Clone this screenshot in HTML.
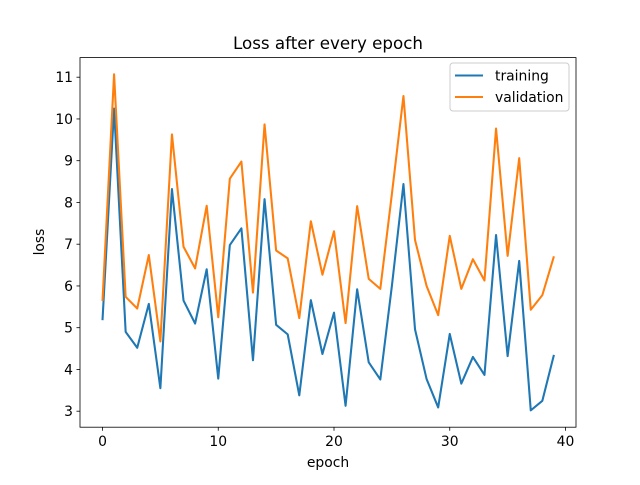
<!DOCTYPE html>
<html><head><meta charset="utf-8"><style>body{margin:0;background:#fff}svg{font-family:"DejaVu Sans","Liberation Sans",sans-serif}</style></head>
<body>
<svg id="chart" width="640" height="480" xmlns="http://www.w3.org/2000/svg">
<rect width="640" height="480" fill="#fff"/>
<text x="328" y="49" font-size="16.7" text-anchor="middle">Loss after every epoch</text>
<g id="plot"></g>
<rect x="80" y="57.6" width="496" height="369.6" fill="none" stroke="#000" stroke-width="0.8"/>
<text x="328" y="467" font-size="13.9" text-anchor="middle">epoch</text>
<text x="44" y="242" font-size="13.9" text-anchor="middle" transform="rotate(-90 44 242)">loss</text>
<g>
<rect x="450" y="63" width="119" height="48" rx="3" fill="#fff" fill-opacity="0.8" stroke="#ccc"/>
<line x1="455" y1="75.5" x2="483" y2="75.5" stroke="#1f77b4" stroke-width="2.08"/>
<text x="495" y="80.5" font-size="13.9">training</text>
<line x1="455" y1="97" x2="483" y2="97" stroke="#ff7f0e" stroke-width="2.08"/>
<text x="495" y="102" font-size="13.9">validation</text>
</g>
</svg>
<script>
const training=[5.18,10.25,4.9,4.52,5.57,3.55,8.32,5.65,5.1,6.4,3.78,6.98,7.38,4.22,8.08,5.07,4.84,3.38,5.66,4.37,5.36,3.13,5.92,4.17,3.76,6.0,8.44,4.96,3.77,3.09,4.85,3.66,4.3,3.87,7.22,4.32,6.6,3.02,3.25,4.35];
const validation=[5.64,11.07,5.74,5.46,6.74,4.67,9.63,6.94,6.42,7.92,5.25,8.57,8.98,5.84,9.87,6.85,6.66,5.23,7.55,6.27,7.31,5.11,7.91,6.17,5.93,8.2,10.55,7.1,6.0,5.3,7.2,5.93,6.64,6.13,9.77,6.72,9.06,5.43,5.78,6.71];
const xTicks=[0,10,20,30,40];
const yTicks=[3,4,5,6,7,8,9,10,11];
const NS="http://www.w3.org/2000/svg";
const g=document.getElementById('plot');
const xs=v=>102.5+(v)*11.575;
const ys=v=>411.2-(v-3)*41.75;
function mk(t,a){const e=document.createElementNS(NS,t);for(const k in a)e.setAttribute(k,a[k]);g.appendChild(e);return e;}
xTicks.forEach(t=>{
 const l=mk('line',{x1:xs(t),x2:xs(t),y1:427.2,y2:430.7,stroke:'#000','stroke-width':0.8});
 
 
 const tx=mk('text',{x:xs(t),y:446,'font-size':13.9,'text-anchor':'middle'});tx.textContent=t;
 
 
});
yTicks.forEach(t=>{
 const l=mk('line',{x1:76.5,x2:80,y1:ys(t),y2:ys(t),stroke:'#000','stroke-width':0.8});
 
 
 const tx=mk('text',{x:73,y:ys(t)+5,'font-size':13.9,'text-anchor':'end'});tx.textContent=t;
 
 
});
function line(d,c,n){const p=mk('polyline',{points:d.map((v,i)=>xs(i)+','+ys(v)).join(' '),fill:'none',stroke:c,'stroke-width':2.08,'stroke-linejoin':'round'});
 
 }
line(training,'#1f77b4','training-line');
line(validation,'#ff7f0e','validation-line');
</script>
</body></html>
